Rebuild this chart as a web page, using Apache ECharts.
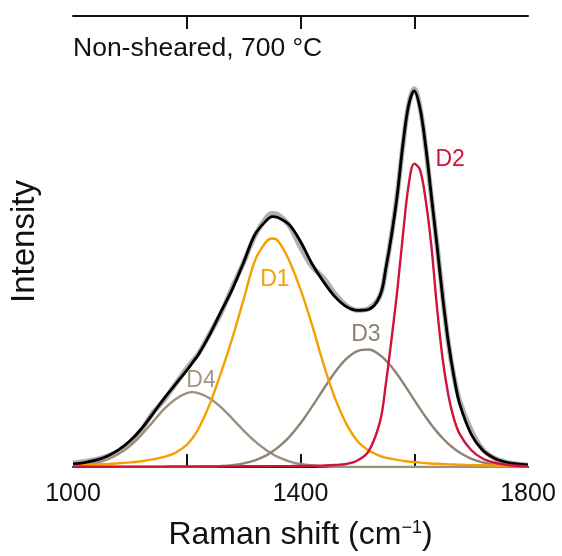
<!DOCTYPE html>
<html>
<head>
<meta charset="utf-8">
<script src="https://cdn.jsdelivr.net/npm/echarts@6/dist/echarts.min.js"></script>
<style>
  html, body { margin: 0; padding: 0; background: #fff; }
  #chart { width: 562px; height: 556px; }
</style>
</head>
<body>
<div id="chart"></div>
<script>
// Raman shift (cm-1)
const shifts = [1000,1020,1040,1060,1080,1100,1120,1140,1160,1180,1200,1210,1220,1240,1260,1280,1300,1320,1340,1350,1360,1380,1400,1420,1440,1460,1480,1500,1520,1540,1550,1560,1570,1580,1590,1600,1610,1620,1630,1640,1650,1660,1670,1680,1700,1720,1740,1760,1780,1800];
// measured spectrum (grey)
const rawSpectrum = [4,5.5,7.5,11,16,25,37,54,67,83, 99,106,113,133,154,180,205,232,250,254,253,242, 220,201,190,174,162,157,159,172, 198,233,273,322,363,379,361,321,271,223,171,124,90,66, 37,18,9,5,3,2];
// fitted envelope (black)
const fitTotal = [3.1,4.5,6.8,10.8,17.1,26,38.1,53,68.5,82.7, 96.8,104.5,112.3,132.2,155.5,178,205,233,247,251,250,243, 226,204,186,171,161,157,158,172, 199,232,272,323,362,377,360,322,272,222,170,125,90,63, 33,17,9,5,3,2];
// fitted bands
const bandD1 = [1.8,2.2,2.5,3.0,3.7,4.6,5.7,7.6,10.1,14.2, 22.2,29,37.6,62.3,94,129,168,207,226,229,227,207, 178,143,104,70,44,26,16.5,11, 9.4,8.2,7.1,6.2,5.5,5.0,4.4,3.9,3.4,3.2,3.0,2.7,2.5,2.3, 1.9,1.7,1.5,1.4,1.3,1.1];
const bandD2 = [0.3,0.3,0.3,0.3,0.4,0.4,0.4,0.4,0.4,0.5, 0.5,0.5,0.5,0.5,0.6,0.6,0.7,0.8,0.8,0.85,0.9,0.9, 1.0,1.2,1.5,2.0,3.0,6.5,16,46, 83,128,176,232,282,304,298,268,222,160,108,72,48,33, 17,8.5,4.5,2.4,1.2,0.6];
const bandD3 = [0,0,0,0,0,0,0,0,0,0, 0.1,0.15,0.2,0.4,0.9,1.8,3.6,6.7,11.7,15.3,19.4,30.0, 43.8,60.2,77.7,94.5,108.1,116.2,117.7,112.1, 106.9,100.4,92.9,84.7,76.0,67.2,58.5,50.1,42.3,35.2,28.8,23.2,18.5,14.5, 8.4,4.6,2.4,1.2,0.5,0.2];
const bandD4 = [1,2,4,7.5,13,21,32,45,58,68, 74,75,74,69,60,48.5,36.5,25.6,16.7,13.2,10.1,5.7, 3.0,1.5,0.7,0.3,0.1,0,0,0, 0,0,0,0,0,0,0,0,0,0,0,0,0,0, 0,0,0,0,0,0];
// axis ticks / labels
const tickValues = [1200,1400,1600];
const tickLabels = [1000,1400,1800];

const FONT = '"Liberation Sans", Arial, Helvetica, sans-serif';
const pairs = arr => shifts.map((x, i) => [x, arr[i]]);

function band(name, arr, color, labelAt, labelColor) {
  return {
    name, type: 'line', data: pairs(arr), showSymbol: false, smooth: 0.35,
    lineStyle: { color, width: 2.4 }, silent: true,
    markPoint: {
      symbol: 'rect', symbolSize: 1, itemStyle: { color: 'rgba(0,0,0,0)' },
      label: { show: true, position: 'inside', formatter: name, color: labelColor, fontSize: 23, fontFamily: FONT },
      data: [{ coord: labelAt }]
    }
  };
}

const chart = echarts.init(document.getElementById('chart'), null, { renderer: 'canvas' });
chart.setOption({
  animation: false,
  backgroundColor: '#fff',
  title: {
    text: 'Non-sheared, 700 °C', left: 68, top: 30,
    textStyle: { fontFamily: FONT, fontSize: 26.5, fontWeight: 'normal', color: '#111' }
  },
  grid: { left: 73, right: 34, top: 16, bottom: 88 },
  xAxis: [{
    type: 'value', min: 1000, max: 1800, interval: 200, position: 'bottom',
    name: 'Raman shift (cm{sup|−1})', nameLocation: 'middle', nameGap: 52,
    nameTextStyle: { fontFamily: FONT, fontSize: 32, color: '#111',
      rich: { sup: { fontSize: 18, fontFamily: FONT, color: '#111', verticalAlign: 'top', lineHeight: 18 } } },
    axisLine: { show: true, onZero: false, lineStyle: { color: '#111', width: 2 } },
    axisTick: { show: true, inside: true, length: 13, customValues: tickValues, lineStyle: { color: '#111', width: 2 } },
    axisLabel: { show: true, customValues: tickLabels, margin: 15, fontFamily: FONT, fontSize: 25, color: '#111',
      formatter: v => String(v) },
    splitLine: { show: false }
  }, {
    type: 'value', min: 1000, max: 1800, interval: 200, position: 'top',
    axisLine: { show: true, onZero: false, lineStyle: { color: '#111', width: 2 } },
    axisTick: { show: true, inside: true, length: 13, customValues: tickValues, lineStyle: { color: '#111', width: 2 } },
    axisLabel: { show: false },
    splitLine: { show: false }
  }],
  yAxis: {
    type: 'value', min: 0, max: 452,
    name: 'Intensity', nameLocation: 'middle', nameGap: 32, nameRotate: 90,
    nameTextStyle: { fontFamily: FONT, fontSize: 33, color: '#111' },
    axisLine: { show: false }, axisTick: { show: false }, axisLabel: { show: false }, splitLine: { show: false }
  },
  series: [
    { name: 'raw', type: 'line', data: pairs(rawSpectrum), showSymbol: false, smooth: 0.35, silent: true,
      lineStyle: { color: 'rgba(150,150,150,0.75)', width: 5 } },
    band('D4', bandD4, '#9c9080', [1225, 87], '#a39785'),
    band('D3', bandD3, '#8f8473', [1515, 133], '#8c8170'),
    band('D1', bandD1, '#f5a000', [1355, 188], '#f2a007'),
    { name: 'fit', type: 'line', data: pairs(fitTotal), showSymbol: false, smooth: 0.35, silent: true,
      lineStyle: { color: '#000', width: 2.8 } },
    band('D2', bandD2, '#d2123c', [1663, 308], '#d2123c')
  ]
});
</script>
</body>
</html>
